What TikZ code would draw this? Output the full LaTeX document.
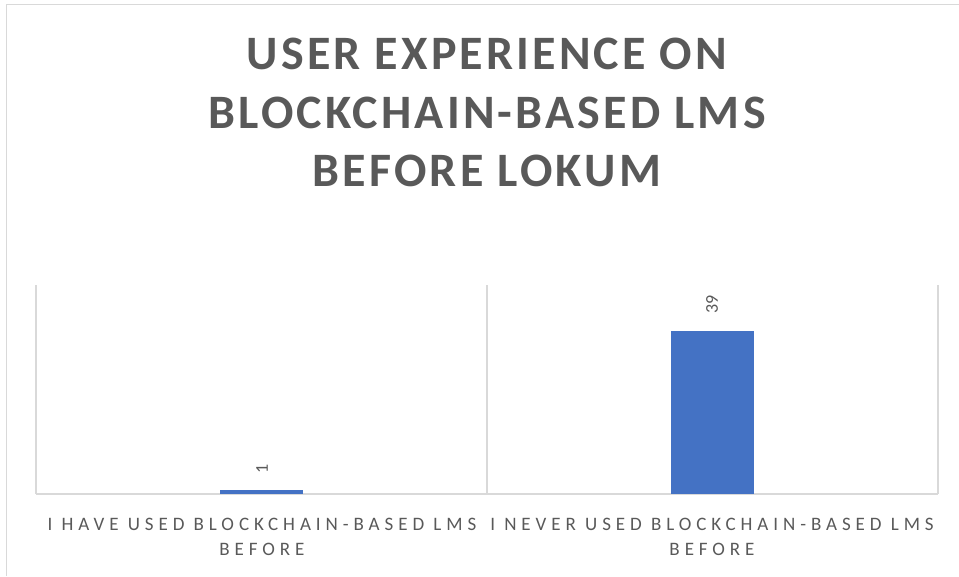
\documentclass[tikz,border=0pt]{standalone}
\usepackage{fontspec}
\setmainfont{Carlito}
\newfontfamily\titlefont{Carlito}[LetterSpace=6.6]
\newfontfamily\catfont{Carlito}[LetterSpace=26]
\definecolor{txtgray}{HTML}{595959}
\definecolor{gridgray}{HTML}{D9D9D9}
\definecolor{barblue}{HTML}{4472C4}
\tikzset{
  charttitle/.style={text=txtgray, align=center, inner sep=0pt,
    font=\titlefont\bfseries\fontsize{48}{58.5}\selectfont},
  catlabel/.style={text=txtgray, align=center, inner sep=0pt,
    font=\catfont\fontsize{19}{25.5}\selectfont},
  vallabel/.style={text=txtgray, inner sep=0pt, rotate=90,
    font=\fontsize{18}{20}\selectfont},
  gridline/.style={draw=gridgray, line width=1.2pt},
  bar/.style={fill=barblue, draw=none},
}
\begin{document}
\begin{tikzpicture}[x=1pt, y=-1pt]
  \useasboundingbox (0,0) rectangle (959,576);
  % chart area frame (left and top edges)
  \draw[draw=gridgray, line width=1.5pt] (6.5,576) -- (6.5,4.5) -- (959,4.5);

  % title
  \node[charttitle, anchor=north] (title) at (487,38)
    {USER EXPERIENCE ON\\BLOCKCHAIN-BASED LMS\\BEFORE LOKUM};

  % plot area gridlines and axis
  \coordinate (pl) at (36,285);
  \coordinate (pm) at (487,285);
  \coordinate (pr) at (938,285);
  \coordinate (bl) at (36,494);
  \coordinate (bm) at (487,494);
  \coordinate (br) at (938,494);
  \draw[gridline] (pl) -- (bl);
  \draw[gridline] (pm) -- (bm);
  \draw[gridline] (pr) -- (br);
  \draw[gridline] (bl) -- (br);

  % bars
  \path[bar] (220,490) rectangle (303,494);
  \path[bar] (671,331) rectangle (754,494);

  % value labels
  \node[vallabel, anchor=west] (v1) at (262,474) {1};
  \node[vallabel, anchor=west] (v39) at (712,314) {39};

  % category labels
  \node[catlabel, anchor=north] (c1) at (262,517.5)
    {I HAVE USED BLOCKCHAIN-BASED LMS\\BEFORE};
  \node[catlabel, anchor=north] (c2) at (712,517.5)
    {I NEVER USED BLOCKCHAIN-BASED LMS\\BEFORE};
\end{tikzpicture}
\end{document}
